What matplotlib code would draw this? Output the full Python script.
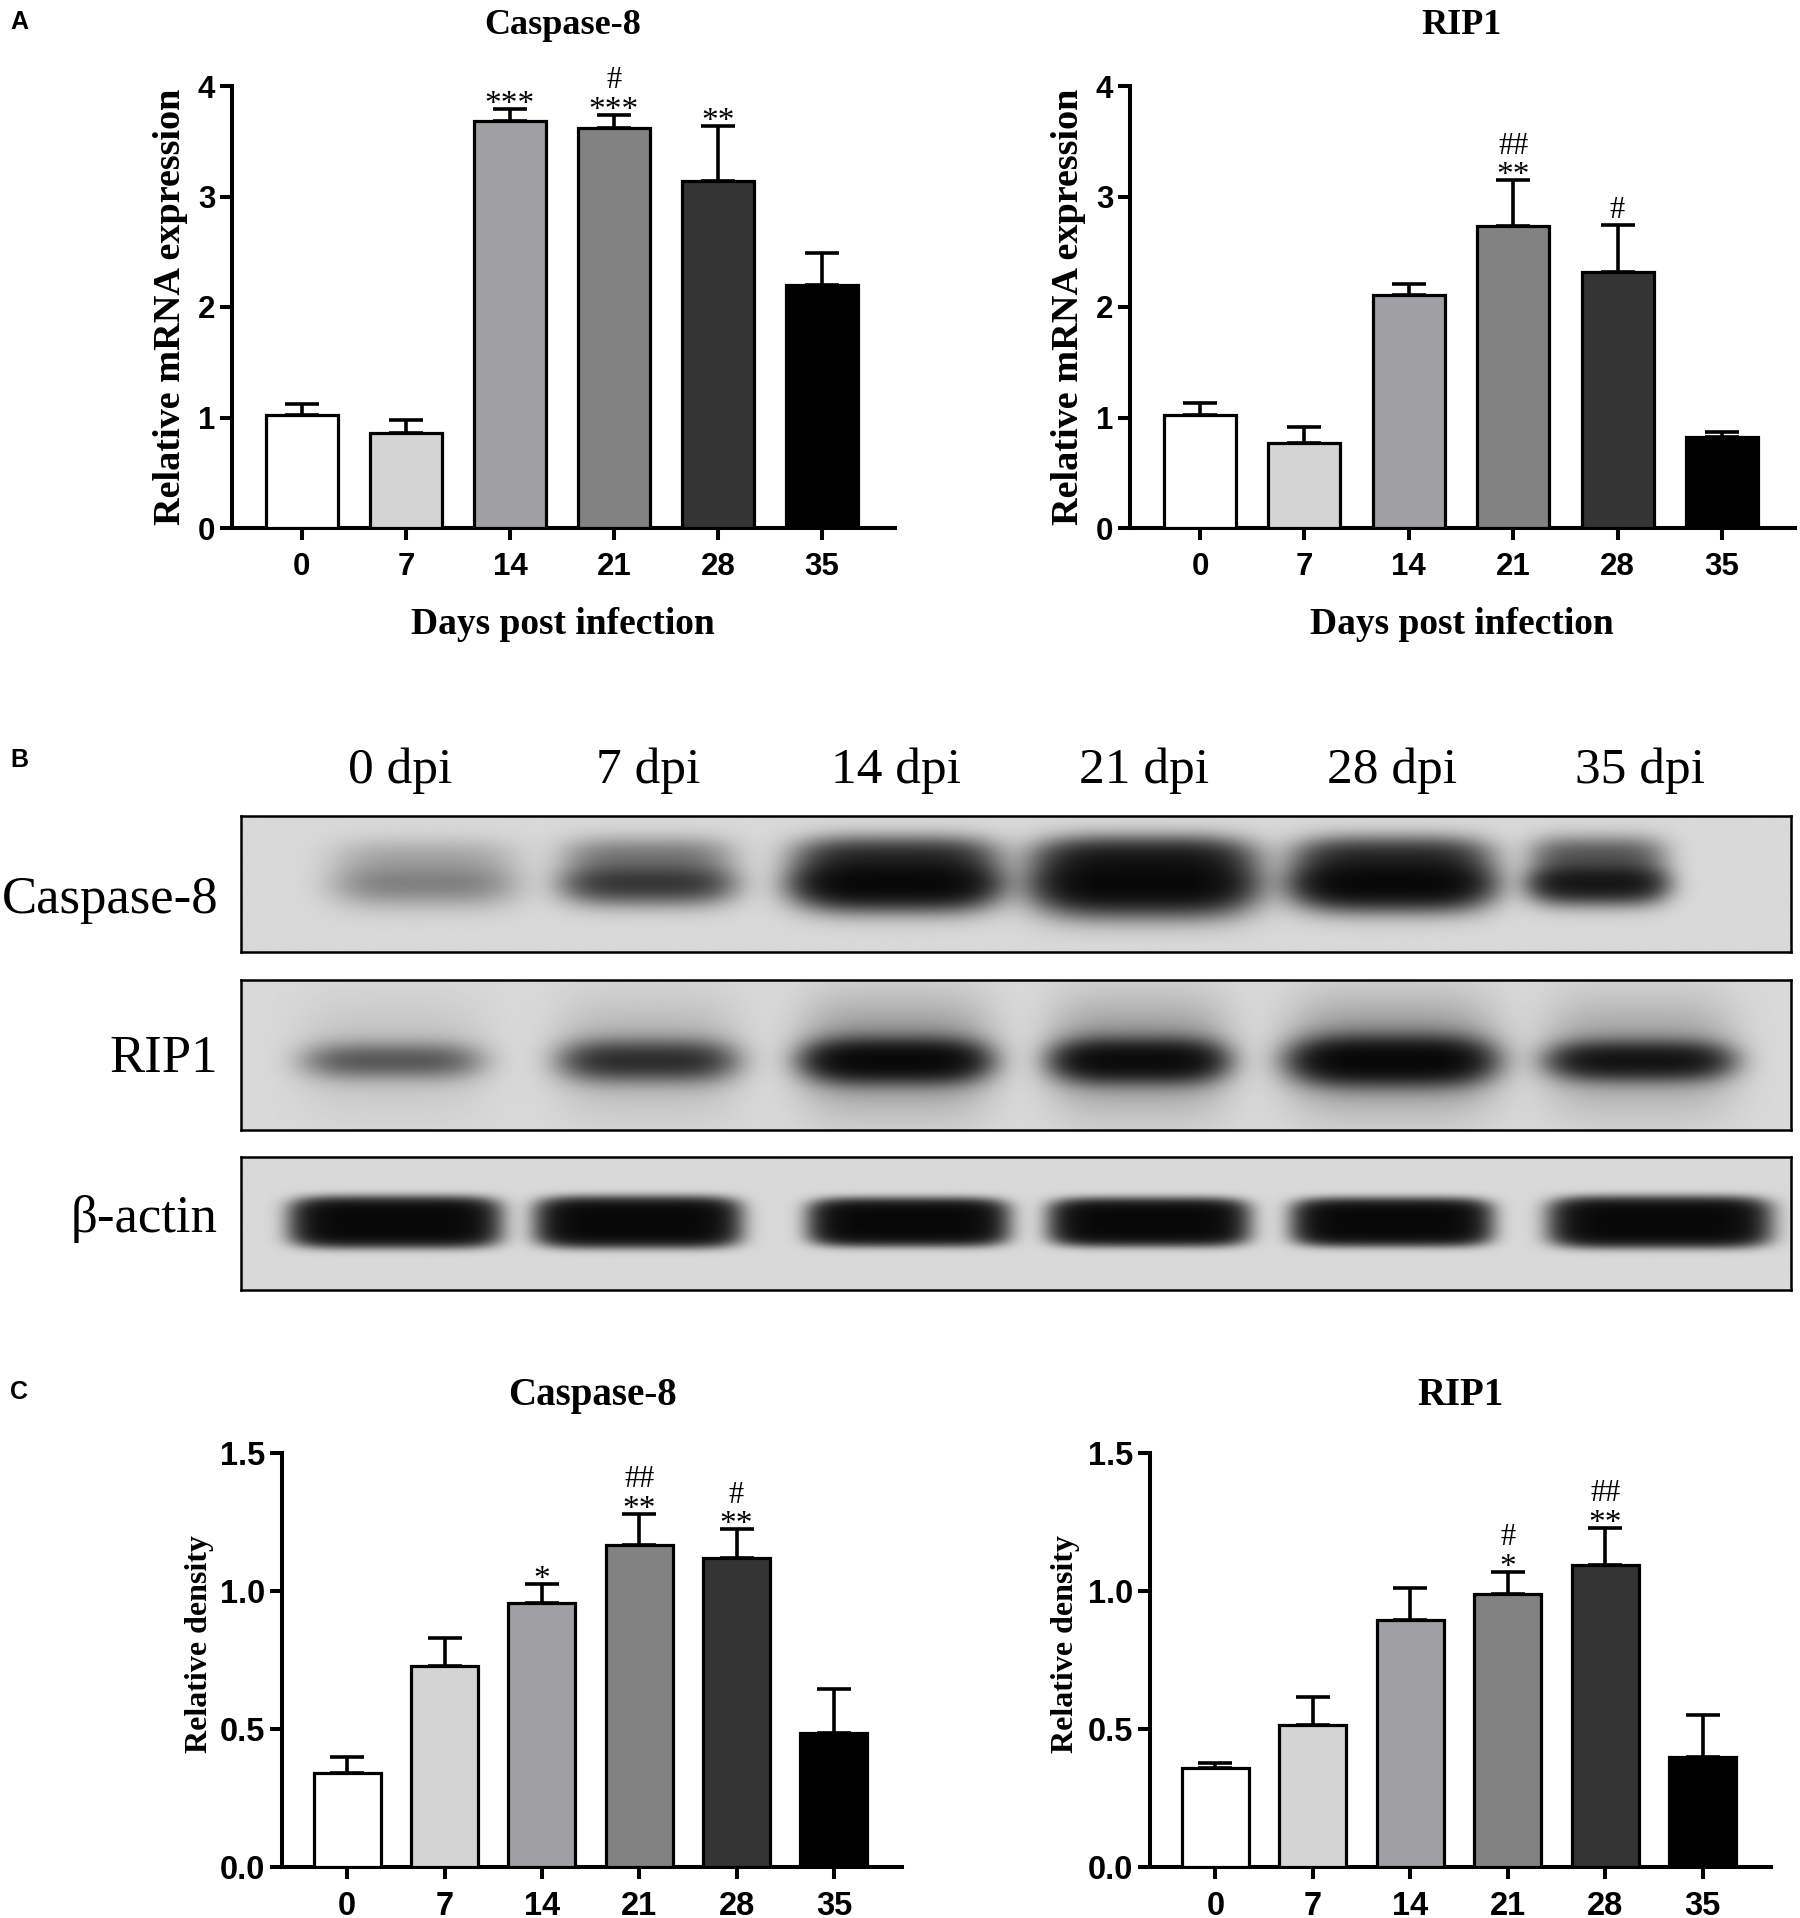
import numpy as np
import matplotlib
matplotlib.use("Agg")
import matplotlib.pyplot as plt

# ---------------- data ----------------
days = ["0", "7", "14", "21", "28", "35"]
dpi_labels = ["0 dpi", "7 dpi", "14 dpi", "21 dpi", "28 dpi", "35 dpi"]

# Panel A: relative mRNA expression (mean, upper SD)
mrna_casp8 = [1.02, 0.86, 3.68, 3.62, 3.14, 2.20]
mrna_casp8_err = [0.10, 0.12, 0.11, 0.12, 0.50, 0.29]
mrna_casp8_stars = ["", "", "***", "***", "**", ""]
mrna_casp8_hash = ["", "", "", "#", "", ""]

mrna_rip1 = [1.02, 0.77, 2.11, 2.73, 2.32, 0.82]
mrna_rip1_err = [0.11, 0.14, 0.10, 0.42, 0.42, 0.05]
mrna_rip1_stars = ["", "", "", "**", "", ""]
mrna_rip1_hash = ["", "", "", "##", "#", ""]

# Panel C: relative density
dens_casp8 = [0.34, 0.73, 0.955, 1.165, 1.12, 0.485]
dens_casp8_err = [0.06, 0.10, 0.07, 0.115, 0.105, 0.16]
dens_casp8_stars = ["", "", "*", "**", "**", ""]
dens_casp8_hash = ["", "", "", "##", "#", ""]

dens_rip1 = [0.36, 0.515, 0.895, 0.99, 1.095, 0.40]
dens_rip1_err = [0.017, 0.10, 0.115, 0.08, 0.135, 0.15]
dens_rip1_stars = ["", "", "", "*", "**", ""]
dens_rip1_hash = ["", "", "", "#", "##", ""]

# Panel B: western blot band intensities (0-1) per lane
blot_rows = ["Caspase-8", "RIP1", "\u03b2-actin"]
band_casp8 = [0.16, 0.42, 1.00, 1.00, 1.00, 0.70]
band_rip1 = [0.24, 0.42, 0.85, 0.80, 0.90, 0.65]
band_actin = [1.00, 1.00, 1.00, 1.00, 1.00, 1.00]

# ---------------- styling ----------------
bar_colors = ["#ffffff", "#d4d4d4", "#a0a0a4", "#828282", "#343434", "#000000"]
SERIF = ["Liberation Serif", "DejaVu Serif"]
SANS = ["Liberation Sans", "DejaVu Sans"]

W, H = 1800, 1918
fig = plt.figure(figsize=(W / 100, H / 100), dpi=100)


def rect(x0, x1, ytop, ybot):
    return [x0 / W, 1 - ybot / H, (x1 - x0) / W, (ybot - ytop) / H]


def ftext(x, y, s, **kw):
    fig.text(x / W, 1 - y / H, s, **kw)


def bar_panel(r, vals, errs, stars, hashes, ylim, yticks, yfmt, tick_fs):
    ax = fig.add_axes(r)
    x = np.arange(len(vals))
    ax.errorbar(x, vals, yerr=[np.zeros(len(vals)), errs], fmt="none",
                ecolor="black", elinewidth=2.6, capsize=12, capthick=2.6, zorder=2)
    ax.bar(x, vals, width=0.69, color=bar_colors, edgecolor="black",
           linewidth=2.3, zorder=3)
    ax.set_xlim(-0.67, 5.7)
    ax.set_ylim(*ylim)
    ax.set_xticks(x)
    ax.set_xticklabels(days)
    ax.set_yticks(yticks)
    ax.set_yticklabels([yfmt.format(t) for t in yticks])
    for s in ["top", "right"]:
        ax.spines[s].set_visible(False)
    for s in ["left", "bottom"]:
        ax.spines[s].set_linewidth(2.9)
    ax.tick_params(axis="both", width=2.9, length=8.5, labelsize=tick_fs)
    ax.tick_params(axis="x", pad=8.5)
    ax.tick_params(axis="y", pad=3.5)
    for lab in ax.get_xticklabels() + ax.get_yticklabels():
        lab.set_fontfamily(SANS)
        lab.set_fontweight("bold")
    for i in range(len(vals)):
        top = vals[i] + errs[i]
        if stars[i]:
            ax.annotate(stars[i], xy=(i, top), xytext=(0, -3), textcoords="offset points",
                        ha="center", va="baseline", fontsize=24, family=SERIF)
            hoff = 19
        else:
            hoff = 5
        if hashes[i]:
            ax.annotate(hashes[i], xy=(i, top), xytext=(0, hoff), textcoords="offset points",
                        ha="center", va="baseline", fontsize=22, family=SERIF)
    return ax


# ---- Panel A ----
bar_panel(rect(232, 895, 86, 528), mrna_casp8, mrna_casp8_err, mrna_casp8_stars,
          mrna_casp8_hash, (0, 4), [0, 1, 2, 3, 4], "{:g}", 22.5)
bar_panel(rect(1130, 1795, 86, 528), mrna_rip1, mrna_rip1_err, mrna_rip1_stars,
          mrna_rip1_hash, (0, 4), [0, 1, 2, 3, 4], "{:g}", 22.5)

for cx, title, ylx in [(563, "Caspase-8", 170), (1462, "RIP1", 1069)]:
    ftext(cx, 34, title, ha="center", va="baseline", fontsize=26,
          fontweight="bold", family=SERIF)
    ftext(cx, 634, "Days post infection", ha="center", va="baseline", fontsize=27,
          fontweight="bold", family=SERIF)
    ftext(ylx, 307, "Relative mRNA expression", ha="center", va="center",
          rotation=90, fontsize=27.5, fontweight="bold", family=SERIF)

# ---- Panel C ----
bar_panel(rect(282, 902, 1453, 1867), dens_casp8, dens_casp8_err, dens_casp8_stars,
          dens_casp8_hash, (0, 1.5), [0.0, 0.5, 1.0, 1.5], "{:.1f}", 23.5)
bar_panel(rect(1150, 1771, 1453, 1867), dens_rip1, dens_rip1_err, dens_rip1_stars,
          dens_rip1_hash, (0, 1.5), [0.0, 0.5, 1.0, 1.5], "{:.1f}", 23.5)

for cx, title, ylx in [(592, "Caspase-8", 199), (1460, "RIP1", 1066)]:
    ftext(cx, 1405, title, ha="center", va="baseline", fontsize=28,
          fontweight="bold", family=SERIF)
    ftext(ylx, 1644, "Relative density", ha="center", va="center",
          rotation=90, fontsize=23, fontweight="bold", family=SERIF)

# ---- Panel B: western blot ----
lanes = np.arange(6)
XL = (-0.64, 5.61)
row_boxes = [(816, 952), (980, 1130), (1157, 1290)]
row_bands = [band_casp8, band_rip1, band_actin]
# per-row band geometry (lane units / box fraction)
row_hw = [[0.36, 0.33, 0.38, 0.41, 0.37, 0.26],
          [0.34, 0.33, 0.34, 0.32, 0.37, 0.34],
          [0.39, 0.38, 0.37, 0.37, 0.37, 0.41]]
row_px = [4, 4, 6]
row_yc = [0.50, 0.46, 0.51]
row_sy = [[0.16, 0.14, 0.16, 0.19, 0.16, 0.13],
          [0.11, 0.12, 0.12, 0.12, 0.13, 0.11],
          [0.17, 0.17, 0.16, 0.16, 0.16, 0.17]]
lane_dx = [[0.10, 0.0, 0.0, 0.0, 0.0, -0.17],
           [-0.03, 0.0, 0.0, -0.02, 0.0, 0.0],
           [-0.02, -0.04, 0.05, 0.02, 0.0, 0.08]]

nx, ny = 1200, 200
gx = np.linspace(XL[0], XL[1], nx)
for r, ((yt, yb), bands) in enumerate(zip(row_boxes, row_bands)):
    ax = fig.add_axes(rect(241, 1791, yt, yb))
    gy = np.linspace(1, 0, ny)
    X, Y = np.meshgrid(gx, gy)
    S = np.zeros_like(X)
    for i, inten in enumerate(bands):
        xc = lanes[i] + lane_dx[r][i]
        hw = row_hw[r][i]
        prof_x = np.exp(-(np.abs(X - xc) / hw) ** row_px[r])
        sy = row_sy[r][i]
        if r == 2:
            prof_y = np.exp(-(np.abs(Y - row_yc[r]) / sy) ** 4)
        else:
            prof_y = np.exp(-((Y - row_yc[r]) / sy) ** 2)
        S += inten * prof_x * prof_y
        if r == 0:
            S += 0.35 * inten * prof_x * np.exp(-((Y - 0.72) / 0.12) ** 2)
        if r == 1:
            S += 0.16 * inten * np.exp(-(np.abs(X - xc) / (hw * 1.1)) ** 4) * \
                np.exp(-((Y - 0.5) / 0.35) ** 2)
    bg = 0.15
    D = bg + (1 - bg) * (1 - np.exp(-3.2 * S))
    ax.imshow(D, cmap="gray_r", vmin=0, vmax=1, aspect="auto",
              extent=(XL[0], XL[1], 0, 1), interpolation="bilinear")
    ax.set_xlim(*XL)
    ax.set_ylim(0, 1)
    ax.set_yticks([])
    for s in ax.spines.values():
        s.set_linewidth(1.8)
    if r == 0:
        ax.xaxis.tick_top()
        ax.set_xticks(lanes)
        ax.set_xticklabels(dpi_labels, fontsize=37, family=SERIF)
        ax.tick_params(axis="x", length=0, pad=16)
    else:
        ax.set_xticks([])

for name, yb in zip(blot_rows, [913, 1072, 1232]):
    ftext(218, yb, name, ha="right", va="baseline", fontsize=38, family=SERIF)

# panel letters
for letter, y in [("A", 22), ("B", 760), ("C", 1392)]:
    ftext(10, y, letter, ha="left", va="center", fontsize=18,
          fontweight="bold", family=SANS)

fig.savefig("out.png", dpi=100)
